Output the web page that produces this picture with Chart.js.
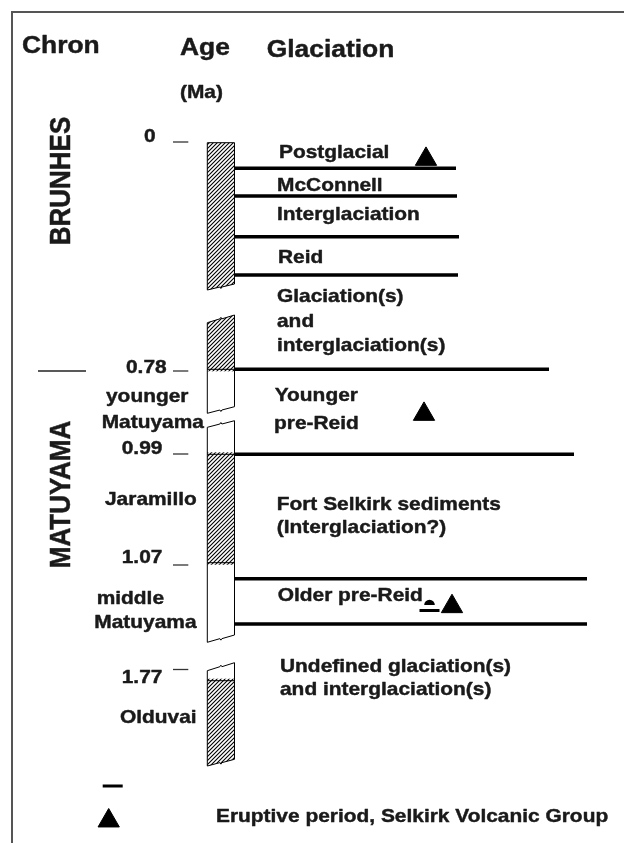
<!DOCTYPE html>
<html><head><meta charset="utf-8">
<script src="https://cdn.jsdelivr.net/npm/chart.js@4"></script>
<style>html,body{margin:0;padding:0;background:#fff}canvas{display:block}</style>
</head><body>
<canvas id="c" width="624" height="843"></canvas>
<script>
// ---------- data (schematic levels on a hidden vertical scale, top = 0) ----------
const chronNames = ['BRUNHES', 'MATUYAMA'];
const chronLevel = [181, 494.5];
const chronBoundaryLevel = 371;

const ageLabels = ['0', '0.78', '0.99', '1.07', '1.77'];
const ageTickLevel = [142, 371, 454, 565, 669.5];
const ageLabelLevel = [141.7, 372.7, 454, 563.3, 683.3];

const subchronLabels = ['younger', 'Matuyama', 'Jaramillo', 'middle', 'Matuyama', 'Olduvai'];
const subchronLevel = [402, 428.3, 505, 604, 628.3, 723.3];

const glaciationLabels = ['Postglacial', 'McConnell', 'Interglaciation', 'Reid',
  'Glaciation(s)', 'and', 'interglaciation(s)', 'Younger', 'pre-Reid',
  'Fort Selkirk sediments', '(Interglaciation?)', 'Older pre-Reid',
  'Undefined glaciation(s)', 'and interglaciation(s)'];
const glaciationLevel = [158.3, 190.5, 219.5, 263.3, 302, 326.7, 350.7, 400.7, 429.3, 510, 533, 600.7, 671.5, 695];

const boundaryLevel = [168.3, 196, 236.7, 275, 369.3, 454.3, 578.7, 624];
const boundaryExtent = [456, 457, 459, 458, 549, 574, 587, 587];

// polarity column pieces: [left, right] levels of top and bottom edges
const segmentTop = [[142.7, 142.7], [322.7, 315], [427.3, 420.7], [670.7, 662.7]];
const segmentBottom = [[290, 284], [413.3, 406.7], [642.3, 635], [766, 759.3]];
const normalPolarity = [[142.7, 290], [315, 369.3], [454.3, 562.7], [680.7, 766]];

const eruptionLevel = [159.2, 414.2, 606.5];
const eruptionPos = [426, 424, 452];
const uncertainEruptionLevel = [610.5];
const uncertainEruptionPos = [429.5];

const legendText = 'Eruptive period, Selkirk Volcanic Group';

// ---------- layout constants ----------
const COL_L = 207.3, COL_R = 234.5;
const TEXT_X = [279, 277, 277, 278, 277, 277, 277, 274.7, 274, 276.7, 276.7, 277.7, 280, 280];
const AGE_X = [144, 126, 121.7, 121.7, 121.7];
const SUB_X = [106, 101.7, 105, 96.7, 94.3, 120];
const FONT = '"Liberation Sans", Arial, Helvetica, sans-serif';
const SX = 1.1;
const INK = '#1a1a1a';

function seg(x0, x1, y, color, w) {
  return { data: [{x: x0, y}, {x: x1, y}], showLine: true, borderColor: color, borderWidth: w,
           pointRadius: 0, fill: false };
}
const datasets = [];
// frame
datasets.push({ data: [{x: 12, y: 843}, {x: 12, y: 12}, {x: 624, y: 12}], showLine: true,
  borderColor: '#555', borderWidth: 2, pointRadius: 0, fill: false });
// glaciation boundaries
boundaryLevel.forEach((y, i) => datasets.push(seg(COL_R, boundaryExtent[i], y, '#000', 3.6)));
// age ticks
ageTickLevel.forEach(y => datasets.push(seg(173, 188.3, y, '#333', 1.3)));
// chron boundary
datasets.push(seg(38, 86, chronBoundaryLevel, '#222', 1.3));
// eruptive periods (triangles)
datasets.push({ data: eruptionLevel.map((y, i) => ({x: eruptionPos[i], y})),
  pointStyle: 'triangle', pointRadius: 12.3, backgroundColor: '#000', borderColor: '#000', borderWidth: 1 });
// legend triangle
datasets.push({ data: [{x: 108.7, y: 820.8}], pointStyle: 'triangle', pointRadius: 12.3,
  backgroundColor: '#000', borderColor: '#000', borderWidth: 1 });
// dash symbols
datasets.push({ data: uncertainEruptionLevel.map((y, i) => ({x: uncertainEruptionPos[i], y})).concat([{x: 112.7, y: 786}]),
  pointStyle: 'line', pointRadius: 10, borderColor: '#000', borderWidth: 3 });

function makeHatch() {
  const p = document.createElement('canvas');
  p.width = 4; p.height = 4;
  const c = p.getContext('2d');
  c.strokeStyle = '#000'; c.lineWidth = 1.1;
  c.beginPath();
  c.moveTo(-1, 5); c.lineTo(5, -1);
  c.moveTo(-1, 1); c.lineTo(1, -1);
  c.moveTo(3, 5); c.lineTo(5, 3);
  c.stroke();
  return p;
}

function drawText(ctx, s, x, y, size) {
  ctx.save();
  ctx.translate(x, y);
  ctx.scale(SX, 1);
  ctx.font = 'bold ' + size + 'px ' + FONT;
  ctx.fillStyle = INK;
  ctx.strokeStyle = INK;
  ctx.lineWidth = 0.45;
  ctx.lineJoin = 'round';
  ctx.textBaseline = 'alphabetic';
  ctx.textAlign = 'left';
  ctx.fillText(s, 0, 0);
  ctx.strokeText(s, 0, 0);
  ctx.restore();
}

const diagramPlugin = {
  id: 'diagram',
  beforeDraw(chart) {
    const ctx = chart.ctx;
    ctx.save();
    ctx.fillStyle = '#fff';
    ctx.fillRect(0, 0, chart.width, chart.height);
    ctx.restore();
  },
  afterDatasetsDraw(chart) {
    const ctx = chart.ctx;
    const xs = chart.scales.x, ys = chart.scales.y;
    const X = v => xs.getPixelForValue(v), Y = v => ys.getPixelForValue(v);
    const hatch = ctx.createPattern(makeHatch(), 'repeat');
    const L = X(COL_L), R = X(COL_R), M = (L + R) / 2;

    segmentTop.forEach((top, i) => {
      const bot = segmentBottom[i];
      const broken = i > 0;
      const path = new Path2D();
      const tl = Y(top[0]), tr = Y(top[1]), bl = Y(bot[0]), br = Y(bot[1]);
      path.moveTo(L, tl);
      if (broken) {
        const tm = (tl + tr) / 2;
        path.lineTo(M - 1, tm); path.lineTo(M, tm - 1.5); path.lineTo(M + 1, tm);
      }
      path.lineTo(R, tr);
      path.lineTo(R, br);
      const bm = (bl + br) / 2;
      path.lineTo(M + 1, bm); path.lineTo(M, bm + 1.5); path.lineTo(M - 1, bm);
      path.lineTo(L, bl);
      path.closePath();
      ctx.save();
      ctx.fillStyle = '#fff';
      ctx.fill(path);
      ctx.clip(path);
      ctx.fillStyle = hatch;
      const np = normalPolarity[i];
      ctx.fillRect(L - 2, Y(np[0]) - 2, R - L + 4, Y(np[1]) - Y(np[0]) + 4);
      ctx.restore();
      ctx.save();
      ctx.strokeStyle = '#000'; ctx.lineWidth = 1;
      ctx.stroke(path);
      [np[0], np[1]].forEach(v => {
        const py = Y(v);
        if (py > Math.max(tl, tr) + 1 && py < Math.min(bl, br) - 1) {
          ctx.beginPath(); ctx.moveTo(L, py); ctx.lineTo(R, py); ctx.stroke();
        }
      });
      ctx.restore();
    });

    uncertainEruptionLevel.forEach((lv, i) => {
      ctx.save();
      ctx.fillStyle = '#000';
      ctx.beginPath();
      ctx.arc(X(uncertainEruptionPos[i]), Y(lv - 5.5), 5.3, Math.PI, 2 * Math.PI);
      ctx.closePath();
      ctx.fill();
      ctx.restore();
    });

    drawText(ctx, 'Chron', X(22), Y(53), 24);
    drawText(ctx, 'Age', X(180), Y(55), 24);
    drawText(ctx, 'Glaciation', X(266.7), Y(56.5), 24);
    drawText(ctx, '(Ma)', X(180), Y(97.5), 19);

    chronNames.forEach((s, i) => {
      ctx.save();
      ctx.translate(X(70), Y(chronLevel[i]));
      ctx.scale(SX, 1);
      ctx.rotate(-Math.PI / 2);
      ctx.font = 'bold 26px ' + FONT;
      ctx.fillStyle = INK;
      ctx.strokeStyle = INK;
      ctx.lineWidth = 0.45;
      ctx.textAlign = 'center';
      ctx.textBaseline = 'alphabetic';
      ctx.fillText(s, 0, 0);
      ctx.strokeText(s, 0, 0);
      ctx.restore();
    });

    ageLabels.forEach((s, i) => drawText(ctx, s, X(AGE_X[i]), Y(ageLabelLevel[i]), 19));
    subchronLabels.forEach((s, i) => drawText(ctx, s, X(SUB_X[i]), Y(subchronLevel[i]), 19));
    glaciationLabels.forEach((s, i) => drawText(ctx, s, X(TEXT_X[i]), Y(glaciationLevel[i]), 19));
    drawText(ctx, legendText, X(216), Y(822), 19);
  }
};

new Chart(document.getElementById('c'), {
  type: 'scatter',
  data: { datasets },
  options: {
    responsive: false,
    devicePixelRatio: 1,
    animation: false,
    events: [],
    layout: { padding: 0, autoPadding: false },
    plugins: { legend: { display: false }, tooltip: { enabled: false } },
    scales: {
      x: { type: 'linear', min: 0, max: 624, display: false },
      y: { type: 'linear', min: 0, max: 843, reverse: true, display: false }
    }
  },
  plugins: [diagramPlugin]
});
</script>
</body></html>
